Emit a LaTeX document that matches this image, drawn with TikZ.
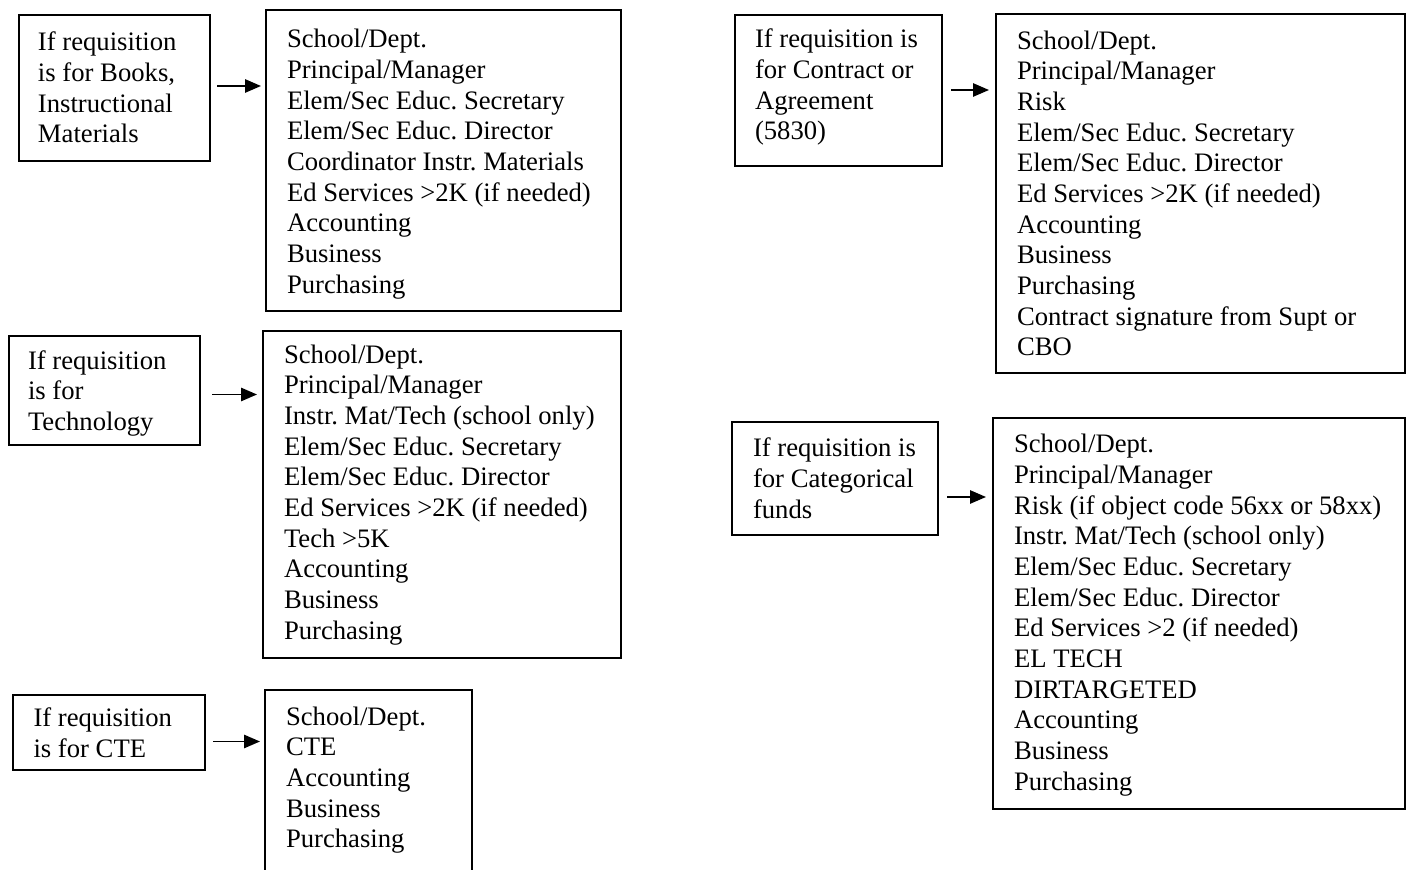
\documentclass[tikz,border=0pt]{standalone}
\usepackage{fontspec}
\setmainfont{Liberation Serif}
\usetikzlibrary{arrows.meta}
\frenchspacing
\newcommand\pxu{0.45pt}
\tikzset{
  box/.style={draw, line width=0.9pt, inner sep=0pt, outer sep=0pt, anchor=north west},
  txt/.style={inner sep=0pt, outer sep=0pt, anchor=north west, align=left,
              font=\fontsize{12}{13.8}\selectfont\frenchspacing},
  arr/.style={line width=0.8pt, -{Triangle[length=7.2pt,width=6pt]}}
}
\newcommand\fl{\rule{0pt}{10pt}}
\begin{document}
\begin{tikzpicture}[x=0.45pt,y=-0.45pt]
\useasboundingbox (0,0) rectangle (1409,870);

% Books
\node[box, minimum width={191.5*\pxu}, minimum height={146*\pxu}] (lab1) at (18.5,15) {};
\node[txt] (lab1t) at (38,28.5) {\fl If requisition\\is for Books,\\Instructional\\Materials};
\node[box, minimum width={355*\pxu}, minimum height={300.5*\pxu}] (list1) at (266,10.5) {};
\node[txt] (list1t) at (287,25.5) {\fl School/Dept.\\Principal/Manager\\Elem/Sec Educ. Secretary\\Elem/Sec Educ. Director\\Coordinator Instr. Materials\\Ed Services >2K (if needed)\\Accounting\\Business\\Purchasing};
\draw[arr] ([shift={(7,-2)}]lab1.east) -- ([shift={(-5,-2)}]lab1.east -| list1.west);

% Technology
\node[box, minimum width={191.5*\pxu}, minimum height={109*\pxu}] (lab2) at (8.5,336) {};
\node[txt] (lab2t) at (28,347) {\fl If requisition\\is for\\Technology};
\node[box, minimum width={358*\pxu}, minimum height={327*\pxu}] (list2) at (263,331) {};
\node[txt] (list2t) at (284,341) {\fl School/Dept.\\Principal/Manager\\Instr. Mat/Tech (school only)\\Elem/Sec Educ. Secretary\\Elem/Sec Educ. Director\\Ed Services >2K (if needed)\\Tech >5K\\Accounting\\Business\\Purchasing};
\draw[arr] ([shift={(12,4)}]lab2.east) -- ([shift={(-6,4)}]lab2.east -| list2.west);

% CTE
\node[box, minimum width={192*\pxu}, minimum height={75*\pxu}] (lab3) at (13,695) {};
\node[txt] (lab3t) at (33.5,704.5) {\fl If requisition\\is for CTE};
\node[box, minimum width={207*\pxu}, minimum height={190*\pxu}] (list3) at (265,690) {};
\node[txt] (list3t) at (286,703) {\fl School/Dept.\\CTE\\Accounting\\Business\\Purchasing};
\draw[arr] ([shift={(8,9)}]lab3.east) -- ([shift={(-5,9)}]lab3.east -| list3.west);

% Contract
\node[box, minimum width={207*\pxu}, minimum height={151*\pxu}] (lab4) at (735,15) {};
\node[txt] (lab4t) at (755,25.5) {\fl If requisition is\\for Contract or\\Agreement\\(5830)};
\node[box, minimum width={409*\pxu}, minimum height={359*\pxu}] (list4) at (996,14) {};
\node[txt] (list4t) at (1017,27) {\fl School/Dept.\\Principal/Manager\\Risk\\Elem/Sec Educ. Secretary\\Elem/Sec Educ. Director\\Ed Services >2K (if needed)\\Accounting\\Business\\Purchasing\\Contract signature from Supt or\\CBO};
\draw[arr] ([shift={(9,-0.5)}]lab4.east) -- ([shift={(-7,-0.5)}]lab4.east -| list4.west);

% Categorical
\node[box, minimum width={206*\pxu}, minimum height={113*\pxu}] (lab5) at (732,422) {};
\node[txt] (lab5t) at (753,434.5) {\fl If requisition is\\for Categorical\\funds};
\node[box, minimum width={412*\pxu}, minimum height={391*\pxu}] (list5) at (993,418) {};
\node[txt] (list5t) at (1014,430.5) {\fl School/Dept.\\Principal/Manager\\Risk (if object code 56xx or 58xx)\\Instr. Mat/Tech (school only)\\Elem/Sec Educ. Secretary\\Elem/Sec Educ. Director\\Ed Services >2 (if needed)\\EL TECH\\DIRTARGETED\\Accounting\\Business\\Purchasing};
\draw[arr] ([shift={(9,18.5)}]lab5.east) -- ([shift={(-7,18.5)}]lab5.east -| list5.west);
\end{tikzpicture}
\end{document}
